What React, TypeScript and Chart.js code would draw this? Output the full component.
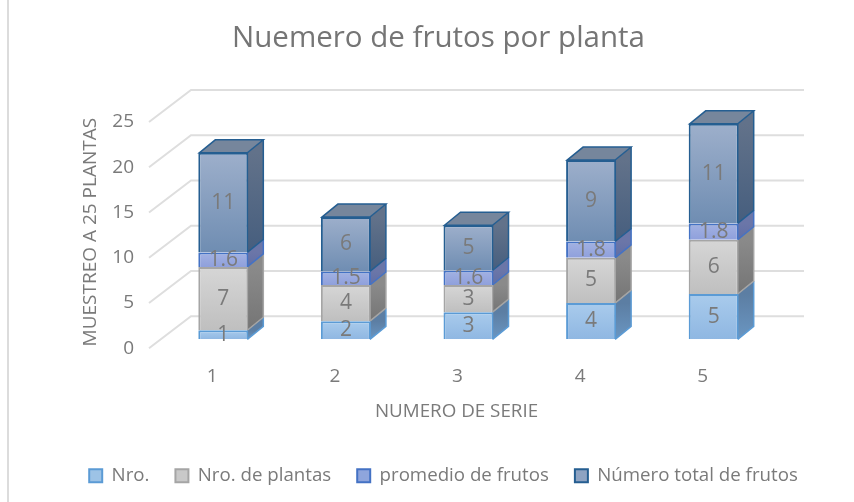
import React, { useEffect, useRef } from "react";
import { Chart, registerables } from "chart.js";

Chart.register(...registerables);

const categories = ["1", "2", "3", "4", "5"];
const nro = [1, 2, 3, 4, 5];
const nroPlantas = [7, 4, 3, 5, 6];
const promedioFrutos = [1.6, 1.5, 1.6, 1.8, 1.8];
const totalFrutos = [11, 6, 5, 9, 11];
const seriesNames = ["Nro.", "Nro. de plantas", "promedio de frutos", "Número total de frutos"];
const seriesValues = [nro, nroPlantas, promedioFrutos, totalFrutos];
const yTicksMax = 25;
const yTickStep = 5;

const FONT = "'Open Sans', 'Noto Sans', sans-serif";
const TEXT = "#7a7a7a";
const styles = [
  { stroke: "#5b9bd5", frontTop: "#a9cbec", frontBottom: "#8fb7e2", sideTop: "#5c7ea3", sideBottom: "#6a96c2", legend: "#9dc3e6" },
  { stroke: "#a5a5a5", frontTop: "#d6d6d6", frontBottom: "#bfbfbf", sideTop: "#8a8a8a", sideBottom: "#757575", legend: "#c9c9c9" },
  { stroke: "#4472c4", frontTop: "#a3b2e2", frontBottom: "#8fa0dc", sideTop: "#6b76a8", sideBottom: "#5f6ea6", legend: "#8fa5dc" },
  { stroke: "#255e91", frontTop: "#9dafcb", frontBottom: "#6f8db2", sideTop: "#62728a", sideBottom: "#465e7e", legend: "#8ea3c2" },
];
const DEPTH_X = 16;
const DEPTH_Y = 13;
const GRID_FRONT_DX = 13;
const GRID_FRONT_DY = 9;
const GRID_BACK_DX = 29;
const GRID_BACK_DY = 23;

const nudgeTitle = (scale: any, ctx: any, dx: number, dy: number) => {
  if (scale.__nudged) return;
  scale.__nudged = true;
  const original = scale.drawTitle;
  scale.drawTitle = function () {
    ctx.save();
    ctx.translate(dx, dy);
    original.call(scale);
    ctx.restore();
  };
};

const box3d = {
  id: "box3d",
  afterLayout(chart: any) {
    const shift = (b: any, dx: number, dy: number) => {
      b.left += dx;
      b.right += dx;
      b.top += dy;
      b.bottom += dy;
    };
    if (chart.titleBlock) shift(chart.titleBlock, 51, 0);
    if (chart.legend) shift(chart.legend, 56, -7);
    nudgeTitle(chart.scales.x, chart.ctx, -12, 0);
    nudgeTitle(chart.scales.y, chart.ctx, 0, 6);
  },
  beforeDatasetsDraw(chart: any) {
    const { ctx, chartArea, scales } = chart;
    ctx.save();
    ctx.fillStyle = "#dcdcdc";
    ctx.fillRect(7, 0, 2, 502);
    ctx.strokeStyle = "#dedede";
    ctx.lineWidth = 2;
    for (const t of scales.y.ticks) {
      const y = scales.y.getPixelForValue(t.value);
      ctx.beginPath();
      ctx.moveTo(chartArea.left - GRID_FRONT_DX, y + GRID_FRONT_DY);
      ctx.lineTo(chartArea.left + GRID_BACK_DX, y - GRID_BACK_DY);
      ctx.lineTo(chartArea.right + GRID_BACK_DX, y - GRID_BACK_DY);
      ctx.stroke();
    }
    chart.data.datasets.forEach((_: any, di: number) => {
      const s = styles[di];
      chart.getDatasetMeta(di).data.forEach((el: any) => {
        const r = el.x + el.width / 2 - 1;
        const top = el.y;
        const bottom = el.base;
        const g = ctx.createLinearGradient(0, top, 0, bottom);
        g.addColorStop(0, s.sideTop);
        g.addColorStop(1, s.sideBottom);
        ctx.fillStyle = g;
        ctx.strokeStyle = s.stroke;
        ctx.lineWidth = 1.5;
        ctx.beginPath();
        ctx.moveTo(r, top);
        ctx.lineTo(r + DEPTH_X, top - DEPTH_Y);
        ctx.lineTo(r + DEPTH_X, bottom - DEPTH_Y);
        ctx.lineTo(r, bottom);
        ctx.closePath();
        ctx.fill();
        ctx.beginPath();
        ctx.moveTo(r + DEPTH_X, top - DEPTH_Y);
        ctx.lineTo(r + DEPTH_X, bottom - DEPTH_Y);
        ctx.lineTo(r, bottom);
        ctx.stroke();
        if (di === chart.data.datasets.length - 1) {
          const l = el.x - el.width / 2 + 1;
          ctx.fillStyle = "#76869c";
          ctx.strokeStyle = s.stroke;
          ctx.beginPath();
          ctx.moveTo(l, top);
          ctx.lineTo(l + DEPTH_X, top - DEPTH_Y);
          ctx.lineTo(r + DEPTH_X, top - DEPTH_Y);
          ctx.lineTo(r, top);
          ctx.closePath();
          ctx.fill();
          ctx.stroke();
        }
      });
    });
    ctx.restore();
  },
  afterDatasetsDraw(chart: any) {
    const { ctx } = chart;
    ctx.save();
    ctx.font = `21px ${FONT}`;
    ctx.fillStyle = TEXT;
    ctx.textAlign = "center";
    ctx.textBaseline = "middle";
    chart.data.datasets.forEach((ds: any, di: number) => {
      chart.getDatasetMeta(di).data.forEach((el: any, i: number) => {
        ctx.fillText(String(ds.data[i]), el.x, (el.y + el.base) / 2);
      });
    });
    ctx.restore();
  },
};

export default function App() {
  const ref = useRef<HTMLCanvasElement | null>(null);
  useEffect(() => {
    const canvas = ref.current!;
    const frontGradient = (c: any) => {
      const s = styles[c.datasetIndex];
      if (c.dataIndex === undefined || !c.chart.scales.y) return s.legend;
      let start = 0;
      for (let k = 0; k < c.datasetIndex; k++) start += seriesValues[k][c.dataIndex];
      const y = c.chart.scales.y;
      const v = seriesValues[c.datasetIndex][c.dataIndex];
      const g = c.chart.ctx.createLinearGradient(0, y.getPixelForValue(start + v), 0, y.getPixelForValue(start));
      g.addColorStop(0, s.frontTop);
      g.addColorStop(1, s.frontBottom);
      return g;
    };
    const chart = new Chart(canvas, {
      type: "bar",
      data: {
        labels: categories,
        datasets: seriesNames.map((name, i) => ({
          label: name,
          data: seriesValues[i],
          backgroundColor: frontGradient,
          borderColor: styles[i].stroke,
          borderWidth: 2,
          barPercentage: 0.408,
          categoryPercentage: 1,
        })),
      },
      options: {
        responsive: false,
        animation: false,
        layout: { padding: { left: 0, right: 79, top: 0, bottom: 0 } },
        plugins: {
          tooltip: { enabled: false },
          title: {
            display: true,
            text: "Nuemero de frutos por planta",
            color: "#757575",
            font: { family: FONT, size: 29.5, weight: "normal", lineHeight: 1 },
            padding: { top: 24, bottom: 59.5 },
          },
          legend: {
            display: true,
            position: "bottom",
            labels: {
              boxWidth: 13,
              boxHeight: 13,
              padding: 26,
              color: TEXT,
              font: { family: FONT, size: 18.7, lineHeight: 1 },
              generateLabels: (chart: any) =>
                chart.data.datasets.map((d: any, i: number) => ({
                  text: d.label,
                  fillStyle: styles[i].legend,
                  strokeStyle: styles[i].stroke,
                  lineWidth: 2,
                  fontColor: TEXT,
                  datasetIndex: i,
                })),
            },
          },
        },
        scales: {
          x: {
            stacked: true,
            grid: { display: false, drawTicks: false },
            border: { display: false },
            ticks: { color: TEXT, font: { family: FONT, size: 19 }, padding: 26, labelOffset: -11 },
            title: {
              display: true,
              text: "NUMERO DE SERIE",
              color: TEXT,
              font: { family: FONT, size: 18.8, lineHeight: 1.2 },
              padding: { top: 0, bottom: 24 },
            },
            afterFit: (s: any) => {
              s.height = 108;
            },
          },
          y: {
            stacked: true,
            min: 0,
            max: yTicksMax,
            grid: { display: false, drawTicks: false },
            border: { display: false },
            ticks: { stepSize: yTickStep, color: TEXT, font: { family: FONT, size: 19 }, padding: 28, labelOffset: 9 },
            title: {
              display: true,
              text: "MUESTREO A 25 PLANTAS",
              color: TEXT,
              font: { family: FONT, size: 19, lineHeight: 1.2 },
              padding: { top: 79, bottom: 0 },
            },
            afterFit: (s: any) => {
              s.width = 162;
            },
          },
        },
      },
      plugins: [box3d],
    } as any);
    return () => chart.destroy();
  }, []);
  return (
    <div style={{ position: "fixed", left: 0, top: 0, width: 854, height: 502, background: "#fff" }}>
      <canvas ref={ref} width={854} height={502} style={{ display: "block", filter: "blur(0.4px)" }} />
    </div>
  );
}
